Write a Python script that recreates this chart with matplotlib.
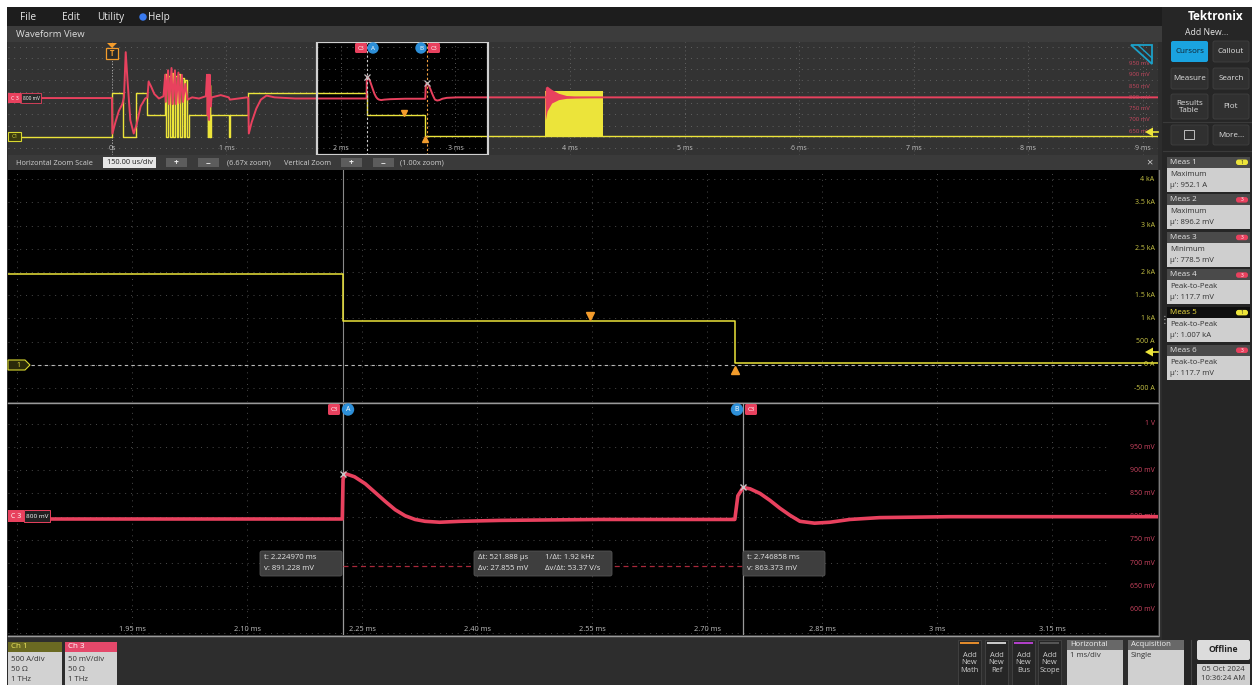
import matplotlib
matplotlib.use('Agg')
import matplotlib.pyplot as plt
from matplotlib.patches import Rectangle, FancyBboxPatch, Polygon, Circle

plt.rcParams['font.family'] = ['Open Sans', 'DejaVu Sans']

W, H = 1252, 685

# ---------------- data ----------------
# Ch1 current (A), step waveform (time in ms)
ch1_t = [-0.908, 0.0, 0.10, 0.21, 0.31, 0.46, 0.475, 0.49, 0.505, 0.52, 0.535, 0.55, 0.565,
         0.58, 0.595, 0.61, 0.625, 0.64, 0.655, 0.67, 0.83, 0.836, 0.842, 0.848, 0.854, 0.860,
         0.866, 1.02, 1.03, 1.19, 2.2245, 2.736, 9.135]
ch1_a = [0, 1950, 0, 1950, 950, 2800, 0, 2700, 0, 2850, 0, 2700, 0,
         2800, 0, 2600, 0, 2500, 0, 950, 2300, 0, 2300, 0, 2300, 0,
         950, 0, 950, 1950, 950, 40, 40]
# Ch1 dense switching block
blk_t = [3.78, 4.29]
blk_lo = [0, 0]
blk_hi = [2050, 2050]

# Ch3 voltage (mV)
ch3_t = [-0.908, 0.0, 0.004, 0.03, 0.06, 0.09, 0.105, 0.12, 0.135, 0.16,
         0.19, 0.215, 0.25, 0.29, 0.31, 0.32, 0.34, 0.37, 0.41, 0.45,
         0.465, 0.47, 0.49, 0.50, 0.52, 0.53, 0.55, 0.56, 0.58, 0.59,
         0.61, 0.62, 0.64, 0.66, 0.70, 0.76, 0.82,
         0.83, 0.836, 0.842, 0.848, 0.854, 0.862, 0.87, 0.95, 1.02, 1.03,
         1.18, 1.19, 1.195, 1.22, 1.26, 1.30, 1.35, 1.42, 1.60,
         2.2240, 2.2250, 2.2276, 2.240, 2.254, 2.267, 2.280, 2.293, 2.306, 2.319,
         2.332, 2.351, 2.378, 2.430, 2.560, 2.7360,
         2.7400, 2.7469, 2.756, 2.769, 2.782, 2.795, 2.808, 2.821, 2.840, 2.860,
         2.886, 2.925, 3.017, 3.78, 9.135]
ch3_mv = [797, 797, 640, 690, 740, 770, 800, 1000, 880, 700,
          640, 680, 760, 795, 800, 870, 850, 815, 795, 805,
          900, 780, 920, 770, 930, 770, 920, 770, 910, 775,
          900, 780, 860, 790, 800, 795, 805,
          900, 720, 900, 700, 900, 760, 800, 810, 800, 790,
          800, 797, 640, 690, 750, 790, 808, 800, 795,
          795, 880, 893, 886, 871, 852, 833, 815, 802, 794,
          790, 788, 790, 792, 794, 794,
          845, 863, 860, 850, 835, 818, 803, 790, 786, 788,
          794, 798, 800, 800, 800]
env_t = [3.78, 3.785, 3.80, 3.84, 3.90, 3.97, 4.05, 4.15, 4.29]
env_hi = [800, 845, 850, 835, 818, 808, 803, 801, 800]
env_lo = [800, 700, 740, 775, 790, 796, 798, 799, 800]

cursor_t = [2.224970, 2.746858]
cursor_mv = [891.228, 863.373]
delta_mv = 693
marker_down = (2.547, 1056)
marker_up = (2.736, -110)

ov_xlim = (-0.908, 9.135)
zm_xlim = (1.788, 3.288)
ch1_ylim = (-800, 4200)
ch3_ylim = (545, 1045)

ov_ticks = [0, 1, 2, 3, 4, 5, 6, 7, 8, 9]
ov_labels = ['0s', '1 ms', '2 ms', '3 ms', '4 ms', '5 ms', '6 ms', '7 ms', '8 ms', '9 ms']
ov_mv_ticks = [950, 900, 850, 800, 750, 700, 650]
ov_mv_labels = ['950 mV', '900 mV', '850 mV', '800 mV', '750 mV', '700 mV', '650 mV']
zm_ticks = [1.95, 2.10, 2.25, 2.40, 2.55, 2.70, 2.85, 3.00, 3.15]
zm_labels = ['1.95 ms', '2.10 ms', '2.25 ms', '2.40 ms', '2.55 ms', '2.70 ms', '2.85 ms', '3 ms', '3.15 ms']
zm_grid = [1.80, 1.95, 2.10, 2.25, 2.40, 2.55, 2.70, 2.85, 3.00, 3.15]
ch1_ticks = [4000, 3500, 3000, 2500, 2000, 1500, 1000, 500, 0, -500]
ch1_labels = ['4 kA', '3.5 kA', '3 kA', '2.5 kA', '2 kA', '1.5 kA', '1 kA', '500 A', '0 A', '-500 A']
ch3_ticks = [1000, 950, 900, 850, 800, 750, 700, 650, 600, 550]
ch3_labels = ['1 V', '950 mV', '900 mV', '850 mV', '800 mV', '750 mV', '700 mV', '650 mV', '600 mV', '']

meas_names = ['Meas 1', 'Meas 2', 'Meas 3', 'Meas 4', 'Meas 5', 'Meas 6']
meas_types = ['Maximum', 'Maximum', 'Minimum', 'Peak-to-Peak', 'Peak-to-Peak', 'Peak-to-Peak']
meas_vals = ["μ': 952.1 A", "μ': 896.2 mV", "μ': 778.5 mV", "μ': 117.7 mV", "μ': 1.007 kA", "μ': 117.7 mV"]
meas_src = [1, 3, 3, 3, 1, 3]

YEL = '#ece43a'
RED = '#e8415e'
ORG = '#f39c2c'
BLUE = '#2d8fd8'

# ---------------- figure ----------------
fig = plt.figure(figsize=(W / 100, H / 100), dpi=100, facecolor='white')


def px_axes(x0, y0, x1, y1, **kw):
    return fig.add_axes([x0 / W, 1 - y1 / H, (x1 - x0) / W, (y1 - y0) / H], **kw)


def pixel_layer():
    a = px_axes(0, 0, W, H)
    a.set_xlim(0, W)
    a.set_ylim(H, 0)
    a.axis('off')
    return a


def rect(ax, x, y, w, h, fc, ec='none', lw=0.0, z=1, r=0, alpha=1.0):
    if r > 0:
        p = FancyBboxPatch((x, y), w, h, boxstyle=f'round,pad=0,rounding_size={r}',
                           fc=fc, ec=ec, lw=lw, zorder=z, alpha=alpha)
    else:
        p = Rectangle((x, y), w, h, fc=fc, ec=ec, lw=lw, zorder=z, alpha=alpha)
    ax.add_patch(p)


def txt(ax, x, y, s, c='#e0e0e0', fs=6, ha='left', va='center', w='normal', z=6, ls=1.1):
    ax.text(x, y, s, color=c, fontsize=fs, ha=ha, va=va, fontweight=w, zorder=z,
            linespacing=ls)


def clean(ax):
    ax.set_xticks([])
    ax.set_yticks([])
    for s in ax.spines.values():
        s.set_visible(False)


bg = pixel_layer()
rect(bg, 7, 7, W - 7, H - 7, '#2d2d2d', z=0)
# menu bar
rect(bg, 7, 7, W - 7, 19, '#1d1d1d')
for s, x in [('File', 20), ('Edit', 62), ('Utility', 97), ('Help', 148)]:
    txt(bg, x, 17, s, c='#e8e8e8', fs=7.2)
bg.add_patch(Circle((143, 17), 3, color='#3a7bf0', zorder=3))
# waveform view header
rect(bg, 7, 26, 1155, 16, '#3c3c3c')
txt(bg, 16, 34, 'Waveform View', c='#dcdcdc', fs=6.8)
# sidebar
rect(bg, 1162, 7, 90, H - 7, '#262626')
txt(bg, 1216, 16, 'Tektronix', c='white', fs=8.5, ha='center', w='bold')
txt(bg, 1207, 32, 'Add New...', c='#e6e6e6', fs=6.2, ha='center')
buttons = [('Cursors', 1171, 41, 37, 21), ('Callout', 1213, 41, 36, 21),
           ('Measure', 1171, 68, 37, 21), ('Search', 1213, 68, 36, 21),
           ('Results\nTable', 1171, 94, 37, 25), ('Plot', 1213, 94, 36, 25),
           ('', 1171, 125, 37, 20), ('More...', 1213, 125, 36, 20)]
for lab, x, y, w, h in buttons:
    if lab == 'Cursors':
        rect(bg, x, y, w, h, '#1aa3e0', r=2, z=2)
        txt(bg, x + w / 2, y + h / 2, lab, c='#10222e', fs=5.8, ha='center')
    else:
        rect(bg, x, y, w, h, '#303030', ec='#404040', lw=0.6, r=2, z=2)
        txt(bg, x + w / 2, y + h / 2, lab, c='#e0e0e0', fs=5.8, ha='center', ls=1.0)
rect(bg, 1184, 130, 10, 9, 'none', ec='#bdbdbd', lw=0.7, z=3)
bg.plot([1163, 1252], [121.5, 121.5], color='#3a3a3a', lw=0.8, zorder=2)
bg.plot([1163, 1252], [150.5, 150.5], color='#3a3a3a', lw=0.8, zorder=2)

for i in range(6):
    top_y = 156.5 + 37.6 * i
    sel = (i == 4)
    rect(bg, 1167, top_y, 83, 11, '#0e0e0e' if sel else '#4a4a4a', z=2)
    rect(bg, 1167, top_y + 11, 83, 24, '#cfcfcf', z=2)
    txt(bg, 1170, top_y + 5.5, meas_names[i], c='#f0e040' if sel else '#e6e6e6', fs=5.8)
    pc = YEL if meas_src[i] == 1 else RED
    rect(bg, 1236, top_y + 3, 12, 5.5, pc, r=2.5, z=3)
    txt(bg, 1242, top_y + 5.7, str(meas_src[i]), c='#222' if meas_src[i] == 1 else 'white', fs=3.5, ha='center')
    txt(bg, 1170, top_y + 17.5, meas_types[i], c='#333333', fs=5.6)
    txt(bg, 1170, top_y + 28.5, meas_vals[i], c='#333333', fs=5.6)
txt(bg, 1164, 320, '⋮', c='#bbbbbb', fs=7, ha='center')

# zoom control bar
rect(bg, 8, 155, 1150, 15, '#3a3a3a')
txt(bg, 16, 163, 'Horizontal Zoom Scale', c='#cfcfcf', fs=5.3)
rect(bg, 103, 157, 53, 11, '#e6e6e6', z=2)
txt(bg, 129.5, 162.8, '150.00 us/div', c='#222', fs=5.3, ha='center')
for x, s in [(166, '+'), (198, '−'), (341, '+'), (373, '−')]:
    rect(bg, x, 158, 21, 9, '#5c5c5c', z=2)
    txt(bg, x + 10.5, 162.5, s, c='#eeeeee', fs=6, ha='center', w='bold')
txt(bg, 227, 163, '(6.67x zoom)', c='#cfcfcf', fs=5.3)
txt(bg, 284, 163, 'Vertical Zoom', c='#cfcfcf', fs=5.3)
txt(bg, 400, 163, '(1.00x zoom)', c='#cfcfcf', fs=5.3)
txt(bg, 1149, 163, '×', c='#d0d0d0', fs=8, ha='center')

# bottom bar
rect(bg, 7, 637, 1155, 48, '#2d2d2d')
for x, w, hc, htxt, hcol, lines in [
        (8, 54, '#6b6a22', 'Ch 1', '#f0e860', ['500 A/div', '50 Ω', '1 THz']),
        (65, 52, '#e4486a', 'Ch 3', 'white', ['50 mV/div', '50 Ω', '1 THz'])]:
    rect(bg, x, 642, w, 10, hc, z=2)
    txt(bg, x + 3, 647, htxt, c=hcol, fs=5.8)
    rect(bg, x, 652, w, 33, '#d2d2d2', z=2)
    for k, s in enumerate(lines):
        txt(bg, x + 3, 659.5 + 10 * k, s, c='#333333', fs=5.6)
for x, stripe, lab in [(958, '#e08a2c', 'Add\nNew\nMath'), (985, '#c8c8c8', 'Add\nNew\nRef'),
                       (1012, '#b040c8', 'Add\nNew\nBus'), (1038, '#555555', 'Add\nNew\nScope')]:
    rect(bg, x, 640, 23, 45, '#262626', ec='#444444', lw=0.6, z=2)
    rect(bg, x + 2, 642, 19, 1.5, stripe, z=3)
    txt(bg, x + 11.5, 663, lab, c='#cfcfcf', fs=5.4, ha='center', ls=1.05)
for x, head, body in [(1067, 'Horizontal', '1 ms/div'), (1128, 'Acquisition', 'Single')]:
    rect(bg, x, 640, 56, 10, '#686868', z=2)
    txt(bg, x + 3, 645, head, c='#f0f0f0', fs=5.6)
    rect(bg, x, 650, 56, 35, '#d0d0d0', z=2)
    txt(bg, x + 3, 655.5, body, c='#333333', fs=5.6)
bg.plot([1190.5, 1190.5], [640, 685], color='#444444', lw=0.8, zorder=2)
rect(bg, 1197, 640, 53, 20, '#dcdcdc', r=2, z=2)
txt(bg, 1223.5, 650, 'Offline', c='#222222', fs=6.2, ha='center', w='bold')
rect(bg, 1197, 664, 53, 21, '#cfcfcf', z=2)
txt(bg, 1223.5, 669.5, '05 Oct 2024', c='#333333', fs=5.5, ha='center')
txt(bg, 1223.5, 679, '10:36:24 AM', c='#333333', fs=5.5, ha='center')

# ---------------- overview ----------------
ov = px_axes(8, 42, 1158, 155)
ov.set_facecolor('#333333')
ov.set_xlim(*ov_xlim)
ov.set_ylim(*ch1_ylim)
clean(ov)
ov.axvspan(zm_xlim[0], zm_xlim[1], color='black', zorder=0.2)
for t in ov_ticks:
    ov.axvline(t, color='#707070', lw=0.6, ls=(0, (1, 4)), zorder=0.5)
for v in range(-500, 4001, 500):
    ov.axhline(v, color='#707070', lw=0.6, ls=(0, (1, 6)), zorder=0.5)
ov.plot(ch1_t, ch1_a, drawstyle='steps-post', color=YEL, lw=1.0, zorder=2)
ov.fill_between(blk_t, blk_lo, blk_hi, color=YEL, lw=0, zorder=2)
ov.axvline(0, color='#b0b0b0', lw=0.7, ls=(0, (1, 2)), zorder=1)
ov.plot(*marker_down, marker='v', color=ORG, ms=5, zorder=4)
ov.plot(*marker_up, marker='^', color=ORG, ms=5, zorder=4)
for t, lab in zip(ov_ticks, ov_labels):
    ov.text(t, 0.06, lab, transform=ov.get_xaxis_transform(), color='#bdbdbd',
            fontsize=5, ha='center', va='center')

ov3 = px_axes(8, 42, 1158, 155)
ov3.patch.set_alpha(0)
ov3.set_xlim(*ov_xlim)
ov3.set_ylim(*ch3_ylim)
clean(ov3)
ov3.plot(ch3_t, ch3_mv, color=RED, lw=1.4, zorder=3)
ov3.fill_between(env_t, env_lo, env_hi, color=RED, lw=0, zorder=3)
ov3.axvline(cursor_t[0], color='#cccccc', lw=0.8, ls=(0, (2, 2)), zorder=4)
ov3.axvline(cursor_t[1], color='#f0a040', lw=0.8, ls=(0, (2, 2)), zorder=4)
ov3.plot(cursor_t, cursor_mv, 'x', color='#c0c0c0', ms=4, mew=0.9, zorder=5)
ov3.add_patch(Rectangle((zm_xlim[0], ch3_ylim[0]), zm_xlim[1] - zm_xlim[0],
                        ch3_ylim[1] - ch3_ylim[0], fill=False, ec='#d0d0d0', lw=1.6, zorder=6))
for v, lab in zip(ov_mv_ticks, ov_mv_labels):
    ov3.text(0.993, v, lab, transform=ov3.get_yaxis_transform(), color='#c8475f',
             fontsize=4.3, ha='right', va='center')

# ---------------- zoomed panels ----------------
up = px_axes(8, 170, 1158, 402)
up.set_facecolor('black')
up.set_xlim(*zm_xlim)
up.set_ylim(*ch1_ylim)
clean(up)
lo = px_axes(8, 403, 1158, 635)
lo.set_facecolor('black')
lo.set_xlim(*zm_xlim)
lo.set_ylim(*ch3_ylim)
clean(lo)
for ax, hs in [(up, ch1_ticks), (lo, ch3_ticks)]:
    for t in zm_grid:
        ax.axvline(t, color='#4a4a4a', lw=0.7, ls=(0, (1, 5)), zorder=0.5)
    for v in hs:
        ax.axhline(v, xmax=0.955, color='#4a4a4a', lw=0.7, ls=(0, (1, 5)), zorder=0.5)

up.axhline(0, xmin=0.02, xmax=0.985, color='#b8b8b8', lw=0.8, ls=(0, (3, 3)), zorder=1)
up.axvline(cursor_t[0], color='#8a8a8a', lw=0.8, zorder=1)
up.plot(ch1_t, ch1_a, drawstyle='steps-post', color=YEL, lw=1.1, zorder=3)
up.plot(*marker_down, marker='v', color=ORG, ms=6, zorder=4)
up.plot(*marker_up, marker='^', color=ORG, ms=6, zorder=4)
for v, lab in zip(ch1_ticks, ch1_labels):
    up.text(0.997, v, lab, transform=up.get_yaxis_transform(), color='#c8c445',
            fontsize=5.0, ha='right', va='center', zorder=2)

for t in cursor_t:
    lo.axvline(t, color='#9a9a9a', lw=0.9, zorder=1)
for v, lab in zip(ch3_ticks, ch3_labels):
    lo.text(0.997, v, lab, transform=lo.get_yaxis_transform(), color='#cc4460',
            fontsize=5.0, ha='right', va='center', zorder=1.5)
lo.plot(ch3_t, ch3_mv, color=RED, lw=2.6, zorder=3)
lo.plot(cursor_t, [delta_mv, delta_mv], color='#a8283a', lw=0.9, ls=(0, (4, 3)), zorder=2)
lo.plot(cursor_t, cursor_mv, 'x', color='#c8c8c8', ms=5, mew=1.0, zorder=5)
for t, lab in zip(zm_ticks, zm_labels):
    lo.text(t, 0.022, lab, transform=lo.get_xaxis_transform(), color='#bdbdbd',
            fontsize=5.3, ha='center', va='center')

# ---------------- overlay ----------------
top = pixel_layer()
top.plot([8, 1158], [402.5, 402.5], color='#9a9a9a', lw=1.0, zorder=2)
top.plot([8, 1158], [635.5, 635.5], color='#9a9a9a', lw=1.0, zorder=2)
top.plot([1158.5, 1158.5], [170, 636], color='#7a7a7a', lw=0.8, zorder=2)

# overview trigger marker
top.add_patch(Polygon([(107, 43), (117, 43), (112, 48)], closed=True, fc=ORG, ec='none', zorder=5))
rect(top, 106, 48, 12, 11, '#2a2a2a', ec=ORG, lw=0.9, z=5)
txt(top, 112, 53.5, 'T', c=ORG, fs=5.5, ha='center', w='bold')
# overview channel tags
rect(top, 8, 93, 13, 10, RED, z=5)
txt(top, 14.5, 98, 'C 3', c='white', fs=3.8, ha='center')
rect(top, 21, 93, 20, 10, '#2a2a2a', ec=RED, lw=0.6, z=5)
txt(top, 31, 98, '800 mV', c='white', fs=3.5, ha='center')
rect(top, 8, 132, 13, 9, '#3a3a10', ec='#d8d830', lw=0.8, z=5)
txt(top, 14.5, 136.5, 'C1', c='#e0e040', fs=3.8, ha='center')
top.add_patch(Polygon([(1145, 132), (1153, 127.5), (1153, 136.5)], closed=True, fc=YEL, ec='none', zorder=5))
top.plot([1153, 1158], [132, 132], color=YEL, lw=1.2, zorder=5)
# overview cursor tags
for x, kind in [(355, 'C3'), (373, 'A'), (421, 'B'), (428, 'C3')]:
    if kind == 'C3':
        rect(top, x, 43, 12, 10, RED, r=1.5, z=5)
        txt(top, x + 6, 48, 'C3', c='white', fs=4, ha='center')
    else:
        top.add_patch(Circle((x, 48), 5, color=BLUE, zorder=5))
        txt(top, x, 48, kind, c='white', fs=4.5, ha='center')
# teal icon
top.add_patch(Polygon([(1131, 45), (1152, 45), (1152, 64)], closed=True, fill=False,
                      ec='#1ba0c8', lw=1.3, zorder=5))
top.plot([1138, 1152], [45, 58], color='#1ba0c8', lw=1.0, zorder=5)

# main panel tags
top.add_patch(Polygon([(8, 360), (25, 360), (30, 365), (25, 370), (8, 370)], closed=True,
                      fc='#2a2a0a', ec='#d8d830', lw=0.8, zorder=5))
txt(top, 18, 365, '1', c='#e8e040', fs=5, ha='center')
top.add_patch(Polygon([(1145, 352), (1153, 347.5), (1153, 356.5)], closed=True, fc=YEL, ec='none', zorder=5))
top.plot([1153, 1158], [352, 352], color=YEL, lw=1.2, zorder=5)
rect(top, 8, 510, 16, 12, RED, z=5)
txt(top, 16, 516, 'C 3', c='white', fs=5, ha='center')
rect(top, 24, 510, 26, 12, '#202020', ec=RED, lw=0.7, z=5)
txt(top, 37, 516, '800 mV', c='white', fs=4.6, ha='center')
for x, kind in [(328, 'C3'), (348, 'A'), (737, 'B'), (745, 'C3')]:
    if kind == 'C3':
        rect(top, x, 404, 12, 11, RED, r=1.5, z=5)
        txt(top, x + 6, 409.5, 'C3', c='white', fs=4.3, ha='center')
    else:
        top.add_patch(Circle((x, 409.5), 5.5, color=BLUE, zorder=5))
        txt(top, x, 409.5, kind, c='white', fs=5, ha='center')

# cursor readouts
rect(top, 260, 551, 82, 25, '#3e3e3e', ec='#555555', lw=0.6, r=2, z=5)
txt(top, 264, 557.5, 't: 2.224970 ms', c='#e6e6e6', fs=5.6)
txt(top, 264, 569, 'v: 891.228 mV', c='#e6e6e6', fs=5.6)
rect(top, 474, 551, 138, 25, '#3e3e3e', ec='#555555', lw=0.6, r=2, z=5)
txt(top, 478, 557.5, 'Δt: 521.888 µs', c='#e6e6e6', fs=5.6)
txt(top, 545, 557.5, '1/Δt: 1.92 kHz', c='#e6e6e6', fs=5.6)
txt(top, 478, 569, 'Δv: 27.855 mV', c='#e6e6e6', fs=5.6)
txt(top, 545, 569, 'Δv/Δt: 53.37 V/s', c='#e6e6e6', fs=5.6)
rect(top, 743, 551, 82, 25, '#3e3e3e', ec='#555555', lw=0.6, r=2, z=5)
txt(top, 747, 557.5, 't: 2.746858 ms', c='#e6e6e6', fs=5.6)
txt(top, 747, 569, 'v: 863.373 mV', c='#e6e6e6', fs=5.6)

fig.savefig('out.png', dpi=100, facecolor=fig.get_facecolor())
